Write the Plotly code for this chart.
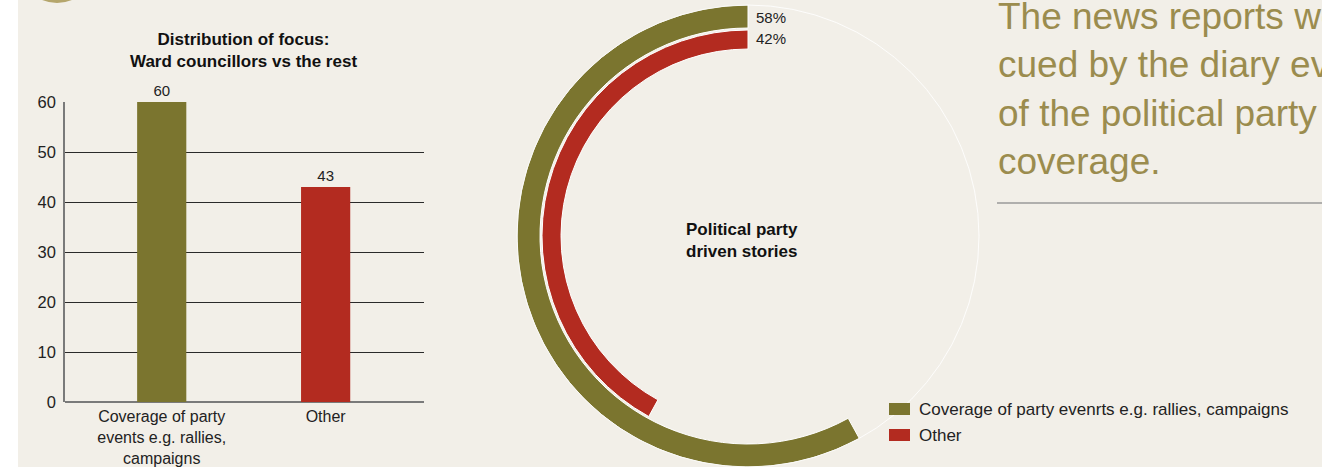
import plotly.graph_objects as go

W, H = 1322, 467

# ---- data ----
bar_categories = ["Coverage of party<br>events e.g. rallies,<br>campaigns", "Other"]
bar_values = [60, 43]
bar_colors = ["#7b752f", "#b32b20"]

ring_labels = ["Coverage of party evenrts e.g. rallies, campaigns", "Other"]
ring_pct = [58, 42]
ring_colors = ["#7b752f", "#b32b20"]

y_ticks = [0, 10, 20, 30, 40, 50, 60]

bar_title = "<b>Distribution of focus:<br>Ward councillors vs the rest</b>"
ring_title = "<b>Political party<br>driven stories</b>"
side_lines = ["The news reports were", "cued by the diary events",
              "of the political party", "coverage."]

FONT = "Liberation Sans, Arial, sans-serif"


def px(x):
    return x / W


def py(y):
    return 1 - y / H


fig = go.Figure()

# ---- bar chart ----
fig.add_trace(go.Bar(
    x=[0, 1], y=bar_values, width=0.30,
    marker=dict(color=bar_colors, line=dict(width=0)),
    text=[str(v) for v in bar_values], textposition="outside",
    textfont=dict(size=15, color="#222", family=FONT),
    cliponaxis=False, showlegend=False, hoverinfo="skip",
))

fig.update_layout(
    xaxis=dict(domain=[px(65), px(424)], range=[-0.59, 1.60], automargin=False,
               tickmode="array", tickvals=[0, 1], ticktext=bar_categories,
               tickfont=dict(size=16, color="#222", family=FONT),
               showgrid=False, zeroline=False, showline=False, ticks="",
               ticklabelstandoff=3),
    yaxis=dict(domain=[py(402), py(102)], range=[0, 60], automargin=False,
               tickmode="array", tickvals=y_ticks,
               tickfont=dict(size=16.5, color="#222", family=FONT),
               showgrid=True, gridcolor="#2a2a2a", gridwidth=1,
               zeroline=True, zerolinecolor="#7a7a7a", zerolinewidth=2,
               showline=True, linecolor="#7a7a7a", linewidth=1.5,
               ticks="", ticklabelstandoff=4),
)

# ---- radial rings ----
R = 231
thick = [23, 19]
bases = [R - thick[0], R - thick[0] - 2 - thick[1]]
for i in range(2):
    span = ring_pct[i] * 3.6
    fig.add_trace(go.Barpolar(
        r=[thick[i]], base=[bases[i]], theta=[span / 2], width=[span],
        marker=dict(color=ring_colors[i], line=dict(color="white", width=1)),
        showlegend=False, hoverinfo="skip", subplot="polar",
    ))

cx, cy = 748, 236
fig.update_layout(
    polar=dict(
        domain=dict(x=[px(cx - R), px(cx + R)], y=[py(cy + R), py(cy - R)]),
        bgcolor="rgba(0,0,0,0)", barmode="overlay", hole=0,
        radialaxis=dict(range=[0, R], visible=False),
        angularaxis=dict(rotation=90, direction="counterclockwise",
                         showgrid=False, showticklabels=False, ticks="",
                         showline=True, linecolor="rgba(255,255,255,0.85)",
                         linewidth=1),
    )
)

anns = []


def note(x, y, text, size, color="#222", anchor="center"):
    anns.append(dict(xref="paper", yref="paper", x=px(x), y=py(y), text=text,
                     showarrow=False, xanchor=anchor, yanchor="middle",
                     font=dict(size=size, color=color, family=FONT)))


# chart titles
note(243, 50, bar_title, 17, "#111")
note(742, 240, ring_title, 17, "#111")
# ring percentages
for i, yy in enumerate([18, 39]):
    note(754, yy, f"{ring_pct[i]}%", 15, anchor="left")
# legend
shapes = []
for i, yy in enumerate([409, 435]):
    shapes.append(dict(type="rect", xref="paper", yref="paper",
                       x0=px(889), x1=px(910), y0=py(yy + 6), y1=py(yy - 6),
                       fillcolor=ring_colors[i], line=dict(width=0)))
    note(917, yy, ring_labels[i], 17, anchor="left")
# side text
for i, line in enumerate(side_lines):
    note(996, 16 + 48.6 * i, line, 37, "#9b8c4e", anchor="left")

# panel background, rule and corner badge
shapes.insert(0, dict(type="rect", xref="paper", yref="paper", layer="below",
                      x0=px(18), x1=1, y0=0, y1=1,
                      fillcolor="#f2efe8", line=dict(width=0)))
shapes.append(dict(type="line", xref="paper", yref="paper",
                   x0=px(997), x1=1, y0=py(203), y1=py(203),
                   line=dict(color="#9a9a9a", width=1.5)))
shapes.append(dict(type="circle", xref="paper", yref="paper",
                   x0=px(57 - 39), x1=px(57 + 39), y0=py(3), y1=py(-75),
                   fillcolor="#b5a66c", line=dict(width=0)))

fig.update_layout(
    width=W, height=H, margin=dict(l=0, r=0, t=0, b=0, autoexpand=False),
    paper_bgcolor="white", plot_bgcolor="rgba(0,0,0,0)",
    annotations=anns, shapes=shapes, showlegend=False,
    font=dict(family=FONT),
)

fig.write_html("out.html")
